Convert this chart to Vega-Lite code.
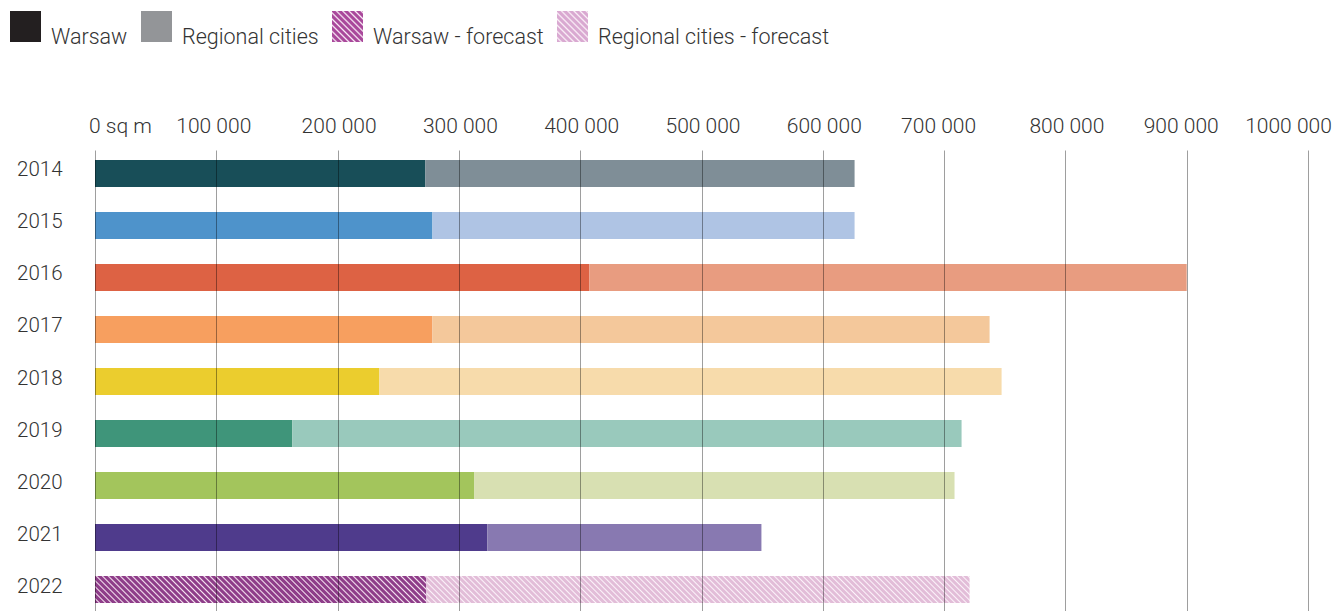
{
  "$schema": "https://vega.github.io/schema/vega-lite/v6.json",
  "width": 1213,
  "height": 463,
  "autosize": {"type": "none"},
  "padding": {"left": 95, "top": 150, "right": 33, "bottom": 0},
  "background": "white",
  "config": {
    "view": {"stroke": null},
    "font": "Roboto",
    "legend": {
      "title": null,
      "orient": "none",
      "legendX": -85,
      "legendY": -139,
      "direction": "horizontal",
      "columns": 4,
      "symbolType": "square",
      "symbolSize": 961,
      "symbolStrokeWidth": 0,
      "symbolOpacity": 1,
      "labelFont": "Roboto",
      "labelFontSize": 21.5,
      "labelFontWeight": 300,
      "labelColor": "#333333",
      "labelBaseline": "top",
      "labelOffset": 10,
      "columnPadding": 13,
      "labelLimit": 400
    }
  },
  "data": {
    "values": [
      {"year": "2014", "series": "Warsaw", "value": 272400},
      {"year": "2014", "series": "Regional cities", "value": 353800},
      {"year": "2015", "series": "Warsaw", "value": 278200},
      {"year": "2015", "series": "Regional cities", "value": 348000},
      {"year": "2016", "series": "Warsaw", "value": 407600},
      {"year": "2016", "series": "Regional cities", "value": 492400},
      {"year": "2017", "series": "Warsaw", "value": 278200},
      {"year": "2017", "series": "Regional cities", "value": 459300},
      {"year": "2018", "series": "Warsaw", "value": 234500},
      {"year": "2018", "series": "Regional cities", "value": 512900},
      {"year": "2019", "series": "Warsaw", "value": 162700},
      {"year": "2019", "series": "Regional cities", "value": 551700},
      {"year": "2020", "series": "Warsaw", "value": 312800},
      {"year": "2020", "series": "Regional cities", "value": 395800},
      {"year": "2021", "series": "Warsaw", "value": 323500},
      {"year": "2021", "series": "Regional cities", "value": 225900},
      {"year": "2022", "series": "Warsaw", "value": 273200},
      {"year": "2022", "series": "Regional cities", "value": 447800}
    ]
  },
  "resolve": {"scale": {"color": "independent"}},
  "layer": [
    {
      "transform": [
        {"stack": "value", "groupby": ["year"], "sort": [{"field": "series", "order": "descending"}], "as": ["v0", "v1"]},
        {"filter": "datum.series === 'Warsaw' && datum.year !== '2022'"}
      ],
      "mark": {"type": "bar"},
      "encoding": {
        "y": {
          "field": "year", "type": "ordinal",
          "scale": {"domain": ["2014","2015","2016","2017","2018","2019","2020","2021","2022"], "paddingInner": 0.4808, "paddingOuter": 0.1923},
          "axis": {"title": null, "domain": false, "ticks": false, "tickSize": 0, "labelPadding": 33, "labelFont": "Roboto", "labelFontSize": 20.5, "labelFontWeight": 300, "labelColor": "#333333", "labelBaseline": "alphabetic", "labelOffset": 3, "grid": false}
        },
        "x": {
          "field": "v0", "type": "quantitative",
          "scale": {"domain": [0, 1000000], "nice": false},
          "axis": {
            "orient": "top", "title": null,
            "values": [0, 100000, 200000, 300000, 400000, 500000, 600000, 700000, 800000, 900000, 1000000],
            "grid": true, "gridColor": "#000000", "gridOpacity": 0.38, "gridWidth": 1,
            "domain": false, "ticks": false, "tickSize": 0,
            "labelPadding": 18, "labelBaseline": "alphabetic", "labelFlush": false, "labelOverlap": false,
            "labelFont": "Roboto", "labelFontSize": 21, "labelFontWeight": 300, "labelColor": "#333333",
            "labelExpr": "datum.value == 0 ? '0 sq m' : format(datum.value / 1000, 'd') + ' 000'",
            "labelOffset": {"condition": [
              {"test": "datum.value == 0", "value": 25},
              {"test": "datum.value == 1000000", "value": -20},
              {"test": "datum.value == 700000 || datum.value == 900000", "value": -6},
              {"test": "datum.value == 100000", "value": -3}
            ], "value": 1},
            "zindex": 1
          }
        },
        "x2": {"field": "v1"},
        "color": {
          "field": "year", "type": "nominal", "legend": null,
          "scale": {"domain": ["2014","2015","2016","2017","2018","2019","2020","2021"], "range": ["#184e58","#4e93cb","#dd6244","#f79f5f","#ebcd2e","#3f957a","#a3c55c","#4f3b8c"]}
        }
      }
    },
    {
      "transform": [
        {"stack": "value", "groupby": ["year"], "sort": [{"field": "series", "order": "descending"}], "as": ["v0", "v1"]},
        {"filter": "datum.series === 'Regional cities' && datum.year !== '2022'"}
      ],
      "mark": {"type": "bar"},
      "encoding": {
        "y": {"field": "year", "type": "ordinal"},
        "x": {"field": "v0", "type": "quantitative", "axis": {"orient": "top"}},
        "x2": {"field": "v1"},
        "color": {
          "field": "year", "type": "nominal", "legend": null,
          "scale": {"domain": ["2014","2015","2016","2017","2018","2019","2020","2021"], "range": ["#7f8e97","#afc4e4","#e89c80","#f4c89b","#f7dbab","#99c9bc","#d8e0b2","#8879b1"]}
        }
      }
    },
    {
      "transform": [
        {"stack": "value", "groupby": ["year"], "sort": [{"field": "series", "order": "descending"}], "as": ["v0", "v1"]},
        {"filter": "datum.series === 'Warsaw' && datum.year === '2022'"}
      ],
      "mark": {
        "type": "bar",
        "fill": {
          "gradient": "linear", "x1": 0, "y1": 1, "x2": 1.0743, "y2": 0.9125,
          "stops": [
            {"offset":0,"color":"#8e3d89"},{"offset":0.0083,"color":"#8e3d89"},{"offset":0.0125,"color":"#f6e4f1"},
            {"offset":0.0167,"color":"#8e3d89"},{"offset":0.025,"color":"#8e3d89"},{"offset":0.0292,"color":"#f6e4f1"},
            {"offset":0.0333,"color":"#8e3d89"},{"offset":0.0417,"color":"#8e3d89"},{"offset":0.0458,"color":"#f6e4f1"},
            {"offset":0.05,"color":"#8e3d89"},{"offset":0.0583,"color":"#8e3d89"},{"offset":0.0625,"color":"#f6e4f1"},
            {"offset":0.0667,"color":"#8e3d89"},{"offset":0.075,"color":"#8e3d89"},{"offset":0.0792,"color":"#f6e4f1"},
            {"offset":0.0833,"color":"#8e3d89"},{"offset":0.0917,"color":"#8e3d89"},{"offset":0.0958,"color":"#f6e4f1"},
            {"offset":0.1,"color":"#8e3d89"},{"offset":0.1083,"color":"#8e3d89"},{"offset":0.1125,"color":"#f6e4f1"},
            {"offset":0.1167,"color":"#8e3d89"},{"offset":0.125,"color":"#8e3d89"},{"offset":0.1292,"color":"#f6e4f1"},
            {"offset":0.1333,"color":"#8e3d89"},{"offset":0.1417,"color":"#8e3d89"},{"offset":0.1458,"color":"#f6e4f1"},
            {"offset":0.15,"color":"#8e3d89"},{"offset":0.1583,"color":"#8e3d89"},{"offset":0.1625,"color":"#f6e4f1"},
            {"offset":0.1667,"color":"#8e3d89"},{"offset":0.175,"color":"#8e3d89"},{"offset":0.1792,"color":"#f6e4f1"},
            {"offset":0.1833,"color":"#8e3d89"},{"offset":0.1917,"color":"#8e3d89"},{"offset":0.1958,"color":"#f6e4f1"},
            {"offset":0.2,"color":"#8e3d89"},{"offset":0.2083,"color":"#8e3d89"},{"offset":0.2125,"color":"#f6e4f1"},
            {"offset":0.2167,"color":"#8e3d89"},{"offset":0.225,"color":"#8e3d89"},{"offset":0.2292,"color":"#f6e4f1"},
            {"offset":0.2333,"color":"#8e3d89"},{"offset":0.2417,"color":"#8e3d89"},{"offset":0.2458,"color":"#f6e4f1"},
            {"offset":0.25,"color":"#8e3d89"},{"offset":0.2583,"color":"#8e3d89"},{"offset":0.2625,"color":"#f6e4f1"},
            {"offset":0.2667,"color":"#8e3d89"},{"offset":0.275,"color":"#8e3d89"},{"offset":0.2792,"color":"#f6e4f1"},
            {"offset":0.2833,"color":"#8e3d89"},{"offset":0.2917,"color":"#8e3d89"},{"offset":0.2958,"color":"#f6e4f1"},
            {"offset":0.3,"color":"#8e3d89"},{"offset":0.3083,"color":"#8e3d89"},{"offset":0.3125,"color":"#f6e4f1"},
            {"offset":0.3167,"color":"#8e3d89"},{"offset":0.325,"color":"#8e3d89"},{"offset":0.3292,"color":"#f6e4f1"},
            {"offset":0.3333,"color":"#8e3d89"},{"offset":0.3417,"color":"#8e3d89"},{"offset":0.3458,"color":"#f6e4f1"},
            {"offset":0.35,"color":"#8e3d89"},{"offset":0.3583,"color":"#8e3d89"},{"offset":0.3625,"color":"#f6e4f1"},
            {"offset":0.3667,"color":"#8e3d89"},{"offset":0.375,"color":"#8e3d89"},{"offset":0.3792,"color":"#f6e4f1"},
            {"offset":0.3833,"color":"#8e3d89"},{"offset":0.3917,"color":"#8e3d89"},{"offset":0.3958,"color":"#f6e4f1"},
            {"offset":0.4,"color":"#8e3d89"},{"offset":0.4083,"color":"#8e3d89"},{"offset":0.4125,"color":"#f6e4f1"},
            {"offset":0.4167,"color":"#8e3d89"},{"offset":0.425,"color":"#8e3d89"},{"offset":0.4292,"color":"#f6e4f1"},
            {"offset":0.4333,"color":"#8e3d89"},{"offset":0.4417,"color":"#8e3d89"},{"offset":0.4458,"color":"#f6e4f1"},
            {"offset":0.45,"color":"#8e3d89"},{"offset":0.4583,"color":"#8e3d89"},{"offset":0.4625,"color":"#f6e4f1"},
            {"offset":0.4667,"color":"#8e3d89"},{"offset":0.475,"color":"#8e3d89"},{"offset":0.4792,"color":"#f6e4f1"},
            {"offset":0.4833,"color":"#8e3d89"},{"offset":0.4917,"color":"#8e3d89"},{"offset":0.4958,"color":"#f6e4f1"},
            {"offset":0.5,"color":"#8e3d89"},{"offset":0.5083,"color":"#8e3d89"},{"offset":0.5125,"color":"#f6e4f1"},
            {"offset":0.5167,"color":"#8e3d89"},{"offset":0.525,"color":"#8e3d89"},{"offset":0.5292,"color":"#f6e4f1"},
            {"offset":0.5333,"color":"#8e3d89"},{"offset":0.5417,"color":"#8e3d89"},{"offset":0.5458,"color":"#f6e4f1"},
            {"offset":0.55,"color":"#8e3d89"},{"offset":0.5583,"color":"#8e3d89"},{"offset":0.5625,"color":"#f6e4f1"},
            {"offset":0.5667,"color":"#8e3d89"},{"offset":0.575,"color":"#8e3d89"},{"offset":0.5792,"color":"#f6e4f1"},
            {"offset":0.5833,"color":"#8e3d89"},{"offset":0.5917,"color":"#8e3d89"},{"offset":0.5958,"color":"#f6e4f1"},
            {"offset":0.6,"color":"#8e3d89"},{"offset":0.6083,"color":"#8e3d89"},{"offset":0.6125,"color":"#f6e4f1"},
            {"offset":0.6167,"color":"#8e3d89"},{"offset":0.625,"color":"#8e3d89"},{"offset":0.6292,"color":"#f6e4f1"},
            {"offset":0.6333,"color":"#8e3d89"},{"offset":0.6417,"color":"#8e3d89"},{"offset":0.6458,"color":"#f6e4f1"},
            {"offset":0.65,"color":"#8e3d89"},{"offset":0.6583,"color":"#8e3d89"},{"offset":0.6625,"color":"#f6e4f1"},
            {"offset":0.6667,"color":"#8e3d89"},{"offset":0.675,"color":"#8e3d89"},{"offset":0.6792,"color":"#f6e4f1"},
            {"offset":0.6833,"color":"#8e3d89"},{"offset":0.6917,"color":"#8e3d89"},{"offset":0.6958,"color":"#f6e4f1"},
            {"offset":0.7,"color":"#8e3d89"},{"offset":0.7083,"color":"#8e3d89"},{"offset":0.7125,"color":"#f6e4f1"},
            {"offset":0.7167,"color":"#8e3d89"},{"offset":0.725,"color":"#8e3d89"},{"offset":0.7292,"color":"#f6e4f1"},
            {"offset":0.7333,"color":"#8e3d89"},{"offset":0.7417,"color":"#8e3d89"},{"offset":0.7458,"color":"#f6e4f1"},
            {"offset":0.75,"color":"#8e3d89"},{"offset":0.7583,"color":"#8e3d89"},{"offset":0.7625,"color":"#f6e4f1"},
            {"offset":0.7667,"color":"#8e3d89"},{"offset":0.775,"color":"#8e3d89"},{"offset":0.7792,"color":"#f6e4f1"},
            {"offset":0.7833,"color":"#8e3d89"},{"offset":0.7917,"color":"#8e3d89"},{"offset":0.7958,"color":"#f6e4f1"},
            {"offset":0.8,"color":"#8e3d89"},{"offset":0.8083,"color":"#8e3d89"},{"offset":0.8125,"color":"#f6e4f1"},
            {"offset":0.8167,"color":"#8e3d89"},{"offset":0.825,"color":"#8e3d89"},{"offset":0.8292,"color":"#f6e4f1"},
            {"offset":0.8333,"color":"#8e3d89"},{"offset":0.8417,"color":"#8e3d89"},{"offset":0.8458,"color":"#f6e4f1"},
            {"offset":0.85,"color":"#8e3d89"},{"offset":0.8583,"color":"#8e3d89"},{"offset":0.8625,"color":"#f6e4f1"},
            {"offset":0.8667,"color":"#8e3d89"},{"offset":0.875,"color":"#8e3d89"},{"offset":0.8792,"color":"#f6e4f1"},
            {"offset":0.8833,"color":"#8e3d89"},{"offset":0.8917,"color":"#8e3d89"},{"offset":0.8958,"color":"#f6e4f1"},
            {"offset":0.9,"color":"#8e3d89"},{"offset":0.9083,"color":"#8e3d89"},{"offset":0.9125,"color":"#f6e4f1"},
            {"offset":0.9167,"color":"#8e3d89"},{"offset":0.925,"color":"#8e3d89"},{"offset":0.9292,"color":"#f6e4f1"},
            {"offset":0.9333,"color":"#8e3d89"},{"offset":0.9417,"color":"#8e3d89"},{"offset":0.9458,"color":"#f6e4f1"},
            {"offset":0.95,"color":"#8e3d89"},{"offset":0.9583,"color":"#8e3d89"},{"offset":0.9625,"color":"#f6e4f1"},
            {"offset":0.9667,"color":"#8e3d89"},{"offset":0.975,"color":"#8e3d89"},{"offset":0.9792,"color":"#f6e4f1"},
            {"offset":0.9833,"color":"#8e3d89"},{"offset":0.9917,"color":"#8e3d89"},{"offset":0.9958,"color":"#f6e4f1"},
            {"offset":1,"color":"#8e3d89"}
          ]
        }
      },
      "encoding": {
        "y": {"field": "year", "type": "ordinal"},
        "x": {"field": "v0", "type": "quantitative", "axis": {"orient": "top"}},
        "x2": {"field": "v1"}
      }
    },
    {
      "transform": [
        {"stack": "value", "groupby": ["year"], "sort": [{"field": "series", "order": "descending"}], "as": ["v0", "v1"]},
        {"filter": "datum.series === 'Regional cities' && datum.year === '2022'"}
      ],
      "mark": {
        "type": "bar",
        "fill": {
          "gradient": "linear", "x1": 0, "y1": 1, "x2": 1.0471, "y2": 0.9479,
          "stops": [
            {"offset":0,"color":"#e2bdd8"},{"offset":0.005,"color":"#e2bdd8"},{"offset":0.0075,"color":"#fcf3fa"},
            {"offset":0.01,"color":"#e2bdd8"},{"offset":0.015,"color":"#e2bdd8"},{"offset":0.0175,"color":"#fcf3fa"},
            {"offset":0.02,"color":"#e2bdd8"},{"offset":0.025,"color":"#e2bdd8"},{"offset":0.0275,"color":"#fcf3fa"},
            {"offset":0.03,"color":"#e2bdd8"},{"offset":0.035,"color":"#e2bdd8"},{"offset":0.0375,"color":"#fcf3fa"},
            {"offset":0.04,"color":"#e2bdd8"},{"offset":0.045,"color":"#e2bdd8"},{"offset":0.0475,"color":"#fcf3fa"},
            {"offset":0.05,"color":"#e2bdd8"},{"offset":0.055,"color":"#e2bdd8"},{"offset":0.0575,"color":"#fcf3fa"},
            {"offset":0.06,"color":"#e2bdd8"},{"offset":0.065,"color":"#e2bdd8"},{"offset":0.0675,"color":"#fcf3fa"},
            {"offset":0.07,"color":"#e2bdd8"},{"offset":0.075,"color":"#e2bdd8"},{"offset":0.0775,"color":"#fcf3fa"},
            {"offset":0.08,"color":"#e2bdd8"},{"offset":0.085,"color":"#e2bdd8"},{"offset":0.0875,"color":"#fcf3fa"},
            {"offset":0.09,"color":"#e2bdd8"},{"offset":0.095,"color":"#e2bdd8"},{"offset":0.0975,"color":"#fcf3fa"},
            {"offset":0.1,"color":"#e2bdd8"},{"offset":0.105,"color":"#e2bdd8"},{"offset":0.1075,"color":"#fcf3fa"},
            {"offset":0.11,"color":"#e2bdd8"},{"offset":0.115,"color":"#e2bdd8"},{"offset":0.1175,"color":"#fcf3fa"},
            {"offset":0.12,"color":"#e2bdd8"},{"offset":0.125,"color":"#e2bdd8"},{"offset":0.1275,"color":"#fcf3fa"},
            {"offset":0.13,"color":"#e2bdd8"},{"offset":0.135,"color":"#e2bdd8"},{"offset":0.1375,"color":"#fcf3fa"},
            {"offset":0.14,"color":"#e2bdd8"},{"offset":0.145,"color":"#e2bdd8"},{"offset":0.1475,"color":"#fcf3fa"},
            {"offset":0.15,"color":"#e2bdd8"},{"offset":0.155,"color":"#e2bdd8"},{"offset":0.1575,"color":"#fcf3fa"},
            {"offset":0.16,"color":"#e2bdd8"},{"offset":0.165,"color":"#e2bdd8"},{"offset":0.1675,"color":"#fcf3fa"},
            {"offset":0.17,"color":"#e2bdd8"},{"offset":0.175,"color":"#e2bdd8"},{"offset":0.1775,"color":"#fcf3fa"},
            {"offset":0.18,"color":"#e2bdd8"},{"offset":0.185,"color":"#e2bdd8"},{"offset":0.1875,"color":"#fcf3fa"},
            {"offset":0.19,"color":"#e2bdd8"},{"offset":0.195,"color":"#e2bdd8"},{"offset":0.1975,"color":"#fcf3fa"},
            {"offset":0.2,"color":"#e2bdd8"},{"offset":0.205,"color":"#e2bdd8"},{"offset":0.2075,"color":"#fcf3fa"},
            {"offset":0.21,"color":"#e2bdd8"},{"offset":0.215,"color":"#e2bdd8"},{"offset":0.2175,"color":"#fcf3fa"},
            {"offset":0.22,"color":"#e2bdd8"},{"offset":0.225,"color":"#e2bdd8"},{"offset":0.2275,"color":"#fcf3fa"},
            {"offset":0.23,"color":"#e2bdd8"},{"offset":0.235,"color":"#e2bdd8"},{"offset":0.2375,"color":"#fcf3fa"},
            {"offset":0.24,"color":"#e2bdd8"},{"offset":0.245,"color":"#e2bdd8"},{"offset":0.2475,"color":"#fcf3fa"},
            {"offset":0.25,"color":"#e2bdd8"},{"offset":0.255,"color":"#e2bdd8"},{"offset":0.2575,"color":"#fcf3fa"},
            {"offset":0.26,"color":"#e2bdd8"},{"offset":0.265,"color":"#e2bdd8"},{"offset":0.2675,"color":"#fcf3fa"},
            {"offset":0.27,"color":"#e2bdd8"},{"offset":0.275,"color":"#e2bdd8"},{"offset":0.2775,"color":"#fcf3fa"},
            {"offset":0.28,"color":"#e2bdd8"},{"offset":0.285,"color":"#e2bdd8"},{"offset":0.2875,"color":"#fcf3fa"},
            {"offset":0.29,"color":"#e2bdd8"},{"offset":0.295,"color":"#e2bdd8"},{"offset":0.2975,"color":"#fcf3fa"},
            {"offset":0.3,"color":"#e2bdd8"},{"offset":0.305,"color":"#e2bdd8"},{"offset":0.3075,"color":"#fcf3fa"},
            {"offset":0.31,"color":"#e2bdd8"},{"offset":0.315,"color":"#e2bdd8"},{"offset":0.3175,"color":"#fcf3fa"},
            {"offset":0.32,"color":"#e2bdd8"},{"offset":0.325,"color":"#e2bdd8"},{"offset":0.3275,"color":"#fcf3fa"},
            {"offset":0.33,"color":"#e2bdd8"},{"offset":0.335,"color":"#e2bdd8"},{"offset":0.3375,"color":"#fcf3fa"},
            {"offset":0.34,"color":"#e2bdd8"},{"offset":0.345,"color":"#e2bdd8"},{"offset":0.3475,"color":"#fcf3fa"},
            {"offset":0.35,"color":"#e2bdd8"},{"offset":0.355,"color":"#e2bdd8"},{"offset":0.3575,"color":"#fcf3fa"},
            {"offset":0.36,"color":"#e2bdd8"},{"offset":0.365,"color":"#e2bdd8"},{"offset":0.3675,"color":"#fcf3fa"},
            {"offset":0.37,"color":"#e2bdd8"},{"offset":0.375,"color":"#e2bdd8"},{"offset":0.3775,"color":"#fcf3fa"},
            {"offset":0.38,"color":"#e2bdd8"},{"offset":0.385,"color":"#e2bdd8"},{"offset":0.3875,"color":"#fcf3fa"},
            {"offset":0.39,"color":"#e2bdd8"},{"offset":0.395,"color":"#e2bdd8"},{"offset":0.3975,"color":"#fcf3fa"},
            {"offset":0.4,"color":"#e2bdd8"},{"offset":0.405,"color":"#e2bdd8"},{"offset":0.4075,"color":"#fcf3fa"},
            {"offset":0.41,"color":"#e2bdd8"},{"offset":0.415,"color":"#e2bdd8"},{"offset":0.4175,"color":"#fcf3fa"},
            {"offset":0.42,"color":"#e2bdd8"},{"offset":0.425,"color":"#e2bdd8"},{"offset":0.4275,"color":"#fcf3fa"},
            {"offset":0.43,"color":"#e2bdd8"},{"offset":0.435,"color":"#e2bdd8"},{"offset":0.4375,"color":"#fcf3fa"},
            {"offset":0.44,"color":"#e2bdd8"},{"offset":0.445,"color":"#e2bdd8"},{"offset":0.4475,"color":"#fcf3fa"},
            {"offset":0.45,"color":"#e2bdd8"},{"offset":0.455,"color":"#e2bdd8"},{"offset":0.4575,"color":"#fcf3fa"},
            {"offset":0.46,"color":"#e2bdd8"},{"offset":0.465,"color":"#e2bdd8"},{"offset":0.4675,"color":"#fcf3fa"},
            {"offset":0.47,"color":"#e2bdd8"},{"offset":0.475,"color":"#e2bdd8"},{"offset":0.4775,"color":"#fcf3fa"},
            {"offset":0.48,"color":"#e2bdd8"},{"offset":0.485,"color":"#e2bdd8"},{"offset":0.4875,"color":"#fcf3fa"},
            {"offset":0.49,"color":"#e2bdd8"},{"offset":0.495,"color":"#e2bdd8"},{"offset":0.4975,"color":"#fcf3fa"},
            {"offset":0.5,"color":"#e2bdd8"},{"offset":0.505,"color":"#e2bdd8"},{"offset":0.5075,"color":"#fcf3fa"},
            {"offset":0.51,"color":"#e2bdd8"},{"offset":0.515,"color":"#e2bdd8"},{"offset":0.5175,"color":"#fcf3fa"},
            {"offset":0.52,"color":"#e2bdd8"},{"offset":0.525,"color":"#e2bdd8"},{"offset":0.5275,"color":"#fcf3fa"},
            {"offset":0.53,"color":"#e2bdd8"},{"offset":0.535,"color":"#e2bdd8"},{"offset":0.5375,"color":"#fcf3fa"},
            {"offset":0.54,"color":"#e2bdd8"},{"offset":0.545,"color":"#e2bdd8"},{"offset":0.5475,"color":"#fcf3fa"},
            {"offset":0.55,"color":"#e2bdd8"},{"offset":0.555,"color":"#e2bdd8"},{"offset":0.5575,"color":"#fcf3fa"},
            {"offset":0.56,"color":"#e2bdd8"},{"offset":0.565,"color":"#e2bdd8"},{"offset":0.5675,"color":"#fcf3fa"},
            {"offset":0.57,"color":"#e2bdd8"},{"offset":0.575,"color":"#e2bdd8"},{"offset":0.5775,"color":"#fcf3fa"},
            {"offset":0.58,"color":"#e2bdd8"},{"offset":0.585,"color":"#e2bdd8"},{"offset":0.5875,"color":"#fcf3fa"},
            {"offset":0.59,"color":"#e2bdd8"},{"offset":0.595,"color":"#e2bdd8"},{"offset":0.5975,"color":"#fcf3fa"},
            {"offset":0.6,"color":"#e2bdd8"},{"offset":0.605,"color":"#e2bdd8"},{"offset":0.6075,"color":"#fcf3fa"},
            {"offset":0.61,"color":"#e2bdd8"},{"offset":0.615,"color":"#e2bdd8"},{"offset":0.6175,"color":"#fcf3fa"},
            {"offset":0.62,"color":"#e2bdd8"},{"offset":0.625,"color":"#e2bdd8"},{"offset":0.6275,"color":"#fcf3fa"},
            {"offset":0.63,"color":"#e2bdd8"},{"offset":0.635,"color":"#e2bdd8"},{"offset":0.6375,"color":"#fcf3fa"},
            {"offset":0.64,"color":"#e2bdd8"},{"offset":0.645,"color":"#e2bdd8"},{"offset":0.6475,"color":"#fcf3fa"},
            {"offset":0.65,"color":"#e2bdd8"},{"offset":0.655,"color":"#e2bdd8"},{"offset":0.6575,"color":"#fcf3fa"},
            {"offset":0.66,"color":"#e2bdd8"},{"offset":0.665,"color":"#e2bdd8"},{"offset":0.6675,"color":"#fcf3fa"},
            {"offset":0.67,"color":"#e2bdd8"},{"offset":0.675,"color":"#e2bdd8"},{"offset":0.6775,"color":"#fcf3fa"},
            {"offset":0.68,"color":"#e2bdd8"},{"offset":0.685,"color":"#e2bdd8"},{"offset":0.6875,"color":"#fcf3fa"},
            {"offset":0.69,"color":"#e2bdd8"},{"offset":0.695,"color":"#e2bdd8"},{"offset":0.6975,"color":"#fcf3fa"},
            {"offset":0.7,"color":"#e2bdd8"},{"offset":0.705,"color":"#e2bdd8"},{"offset":0.7075,"color":"#fcf3fa"},
            {"offset":0.71,"color":"#e2bdd8"},{"offset":0.715,"color":"#e2bdd8"},{"offset":0.7175,"color":"#fcf3fa"},
            {"offset":0.72,"color":"#e2bdd8"},{"offset":0.725,"color":"#e2bdd8"},{"offset":0.7275,"color":"#fcf3fa"},
            {"offset":0.73,"color":"#e2bdd8"},{"offset":0.735,"color":"#e2bdd8"},{"offset":0.7375,"color":"#fcf3fa"},
            {"offset":0.74,"color":"#e2bdd8"},{"offset":0.745,"color":"#e2bdd8"},{"offset":0.7475,"color":"#fcf3fa"},
            {"offset":0.75,"color":"#e2bdd8"},{"offset":0.755,"color":"#e2bdd8"},{"offset":0.7575,"color":"#fcf3fa"},
            {"offset":0.76,"color":"#e2bdd8"},{"offset":0.765,"color":"#e2bdd8"},{"offset":0.7675,"color":"#fcf3fa"},
            {"offset":0.77,"color":"#e2bdd8"},{"offset":0.775,"color":"#e2bdd8"},{"offset":0.7775,"color":"#fcf3fa"},
            {"offset":0.78,"color":"#e2bdd8"},{"offset":0.785,"color":"#e2bdd8"},{"offset":0.7875,"color":"#fcf3fa"},
            {"offset":0.79,"color":"#e2bdd8"},{"offset":0.795,"color":"#e2bdd8"},{"offset":0.7975,"color":"#fcf3fa"},
            {"offset":0.8,"color":"#e2bdd8"},{"offset":0.805,"color":"#e2bdd8"},{"offset":0.8075,"color":"#fcf3fa"},
            {"offset":0.81,"color":"#e2bdd8"},{"offset":0.815,"color":"#e2bdd8"},{"offset":0.8175,"color":"#fcf3fa"},
            {"offset":0.82,"color":"#e2bdd8"},{"offset":0.825,"color":"#e2bdd8"},{"offset":0.8275,"color":"#fcf3fa"},
            {"offset":0.83,"color":"#e2bdd8"},{"offset":0.835,"color":"#e2bdd8"},{"offset":0.8375,"color":"#fcf3fa"},
            {"offset":0.84,"color":"#e2bdd8"},{"offset":0.845,"color":"#e2bdd8"},{"offset":0.8475,"color":"#fcf3fa"},
            {"offset":0.85,"color":"#e2bdd8"},{"offset":0.855,"color":"#e2bdd8"},{"offset":0.8575,"color":"#fcf3fa"},
            {"offset":0.86,"color":"#e2bdd8"},{"offset":0.865,"color":"#e2bdd8"},{"offset":0.8675,"color":"#fcf3fa"},
            {"offset":0.87,"color":"#e2bdd8"},{"offset":0.875,"color":"#e2bdd8"},{"offset":0.8775,"color":"#fcf3fa"},
            {"offset":0.88,"color":"#e2bdd8"},{"offset":0.885,"color":"#e2bdd8"},{"offset":0.8875,"color":"#fcf3fa"},
            {"offset":0.89,"color":"#e2bdd8"},{"offset":0.895,"color":"#e2bdd8"},{"offset":0.8975,"color":"#fcf3fa"},
            {"offset":0.9,"color":"#e2bdd8"},{"offset":0.905,"color":"#e2bdd8"},{"offset":0.9075,"color":"#fcf3fa"},
            {"offset":0.91,"color":"#e2bdd8"},{"offset":0.915,"color":"#e2bdd8"},{"offset":0.9175,"color":"#fcf3fa"},
            {"offset":0.92,"color":"#e2bdd8"},{"offset":0.925,"color":"#e2bdd8"},{"offset":0.9275,"color":"#fcf3fa"},
            {"offset":0.93,"color":"#e2bdd8"},{"offset":0.935,"color":"#e2bdd8"},{"offset":0.9375,"color":"#fcf3fa"},
            {"offset":0.94,"color":"#e2bdd8"},{"offset":0.945,"color":"#e2bdd8"},{"offset":0.9475,"color":"#fcf3fa"},
            {"offset":0.95,"color":"#e2bdd8"},{"offset":0.955,"color":"#e2bdd8"},{"offset":0.9575,"color":"#fcf3fa"},
            {"offset":0.96,"color":"#e2bdd8"},{"offset":0.965,"color":"#e2bdd8"},{"offset":0.9675,"color":"#fcf3fa"},
            {"offset":0.97,"color":"#e2bdd8"},{"offset":0.975,"color":"#e2bdd8"},{"offset":0.9775,"color":"#fcf3fa"},
            {"offset":0.98,"color":"#e2bdd8"},{"offset":0.985,"color":"#e2bdd8"},{"offset":0.9875,"color":"#fcf3fa"},
            {"offset":0.99,"color":"#e2bdd8"},{"offset":0.995,"color":"#e2bdd8"},{"offset":0.9975,"color":"#fcf3fa"},
            {"offset":1,"color":"#e2bdd8"}
          ]
        }
      },
      "encoding": {
        "y": {"field": "year", "type": "ordinal"},
        "x": {"field": "v0", "type": "quantitative", "axis": {"orient": "top"}},
        "x2": {"field": "v1"}
      }
    },
    {
      "data": {"values": [{"cat": "Warsaw"}, {"cat": "Regional cities"}, {"cat": "Warsaw - forecast"}, {"cat": "Regional cities - forecast"}]},
      "mark": {"type": "square", "opacity": 0},
      "encoding": {
        "color": {
          "field": "cat", "type": "nominal",
          "scale": {
            "domain": ["Warsaw", "Regional cities", "Warsaw - forecast", "Regional cities - forecast"],
            "range": [
              "#231f20",
              "#939598",
              {"expr": "{gradient: 'linear', x1: 0, y1: 1, x2: 1, y2: 0, stops: [{offset: 0, color: '#a9489b'}, {offset: 0.045, color: '#a9489b'}, {offset: 0.072, color: '#fbeef8'}, {offset: 0.1, color: '#a9489b'}, {offset: 0.145, color: '#a9489b'}, {offset: 0.172, color: '#fbeef8'}, {offset: 0.2, color: '#a9489b'}, {offset: 0.245, color: '#a9489b'}, {offset: 0.272, color: '#fbeef8'}, {offset: 0.3, color: '#a9489b'}, {offset: 0.345, color: '#a9489b'}, {offset: 0.372, color: '#fbeef8'}, {offset: 0.4, color: '#a9489b'}, {offset: 0.445, color: '#a9489b'}, {offset: 0.472, color: '#fbeef8'}, {offset: 0.5, color: '#a9489b'}, {offset: 0.545, color: '#a9489b'}, {offset: 0.572, color: '#fbeef8'}, {offset: 0.6, color: '#a9489b'}, {offset: 0.645, color: '#a9489b'}, {offset: 0.672, color: '#fbeef8'}, {offset: 0.7, color: '#a9489b'}, {offset: 0.745, color: '#a9489b'}, {offset: 0.772, color: '#fbeef8'}, {offset: 0.8, color: '#a9489b'}, {offset: 0.845, color: '#a9489b'}, {offset: 0.872, color: '#fbeef8'}, {offset: 0.9, color: '#a9489b'}, {offset: 0.945, color: '#a9489b'}, {offset: 0.972, color: '#fbeef8'}, {offset: 1, color: '#a9489b'}]}"},
              {"expr": "{gradient: 'linear', x1: 0, y1: 1, x2: 1, y2: 0, stops: [{offset: 0, color: '#d9a9d1'}, {offset: 0.045, color: '#d9a9d1'}, {offset: 0.072, color: '#fbf1f8'}, {offset: 0.1, color: '#d9a9d1'}, {offset: 0.145, color: '#d9a9d1'}, {offset: 0.172, color: '#fbf1f8'}, {offset: 0.2, color: '#d9a9d1'}, {offset: 0.245, color: '#d9a9d1'}, {offset: 0.272, color: '#fbf1f8'}, {offset: 0.3, color: '#d9a9d1'}, {offset: 0.345, color: '#d9a9d1'}, {offset: 0.372, color: '#fbf1f8'}, {offset: 0.4, color: '#d9a9d1'}, {offset: 0.445, color: '#d9a9d1'}, {offset: 0.472, color: '#fbf1f8'}, {offset: 0.5, color: '#d9a9d1'}, {offset: 0.545, color: '#d9a9d1'}, {offset: 0.572, color: '#fbf1f8'}, {offset: 0.6, color: '#d9a9d1'}, {offset: 0.645, color: '#d9a9d1'}, {offset: 0.672, color: '#fbf1f8'}, {offset: 0.7, color: '#d9a9d1'}, {offset: 0.745, color: '#d9a9d1'}, {offset: 0.772, color: '#fbf1f8'}, {offset: 0.8, color: '#d9a9d1'}, {offset: 0.845, color: '#d9a9d1'}, {offset: 0.872, color: '#fbf1f8'}, {offset: 0.9, color: '#d9a9d1'}, {offset: 0.945, color: '#d9a9d1'}, {offset: 0.972, color: '#fbf1f8'}, {offset: 1, color: '#d9a9d1'}]}"}
            ]
          },
          "legend": {"title": null}
        }
      }
    }
  ]
}
